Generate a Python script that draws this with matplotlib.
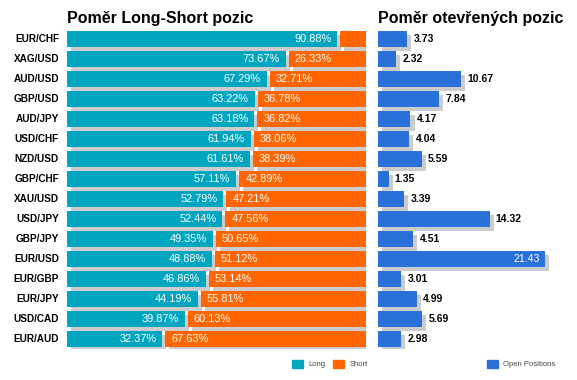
import matplotlib
matplotlib.use("Agg")
import matplotlib.pyplot as plt
import matplotlib.patheffects as pe
from matplotlib.patches import Patch

plt.rcParams['font.family'] = ['Liberation Sans', 'DejaVu Sans']

pairs = ["EUR/CHF", "XAG/USD", "AUD/USD", "GBP/USD", "AUD/JPY", "USD/CHF", "NZD/USD",
         "GBP/CHF", "XAU/USD", "USD/JPY", "GBP/JPY", "EUR/USD", "EUR/GBP", "EUR/JPY",
         "USD/CAD", "EUR/AUD"]
long_pct = [90.88, 73.67, 67.29, 63.22, 63.18, 61.94, 61.61, 57.11, 52.79, 52.44,
            49.35, 48.88, 46.86, 44.19, 39.87, 32.37]
short_pct = [9.12, 26.33, 32.71, 36.78, 36.82, 38.06, 38.39, 42.89, 47.21, 47.56,
             50.65, 51.12, 53.14, 55.81, 60.13, 67.63]
open_pos = [3.73, 2.32, 10.67, 7.84, 4.17, 4.04, 5.59, 1.35, 3.39, 14.32,
            4.51, 21.43, 3.01, 4.99, 5.69, 2.98]

C_LONG = "#00A6C0"
C_SHORT = "#FF6600"
C_OPEN = "#2970D8"
C_SHADOW = "#CCCCCC"

W, H = 577, 380
fig = plt.figure(figsize=(W / 100, H / 100), dpi=100)

def px_axes(x0, y0, x1, y1):
    return fig.add_axes([x0 / W, 1 - y1 / H, (x1 - x0) / W, (y1 - y0) / H])

shadow = [pe.SimplePatchShadow(offset=(2.9, -2.9), shadow_rgbFace=C_SHADOW, alpha=1.0), pe.Normal()]
gap = 0.5

# Left panel
axL = px_axes(67, 29, 366, 349)
ypos = list(range(len(pairs)))
long_w = [v - gap for v in long_pct]
short_left = [v + gap for v in long_pct]
short_w = [s - gap for s in short_pct]
axL.barh(ypos, long_w, height=0.8, color=C_LONG, path_effects=shadow)
axL.barh(ypos, short_w, left=short_left, height=0.8, color=C_SHORT, path_effects=shadow)
axL.set_xlim(0, 100)
axL.set_ylim(len(pairs) - 0.5, -0.5)
axL.axis("off")
for i, (lv, sv) in enumerate(zip(long_pct, short_pct)):
    axL.annotate(f"{lv:.2f}%", (lv - gap, i), xytext=(-4.3, 0), textcoords="offset points",
                 ha="right", va="center", color="white", fontsize=7.9)
    if sv > 15:
        axL.annotate(f"{sv:.2f}%", (lv + gap, i), xytext=(4.3, 0), textcoords="offset points",
                     ha="left", va="center", color="white", fontsize=7.9)
    axL.annotate(pairs[i], (0, i), xytext=(-5.8, 0), textcoords="offset points",
                 ha="right", va="center", color="black", fontsize=7.2, fontweight="bold")

# Right panel
px_per_unit = 7.79
axR = px_axes(378, 29, 577, 349)
axR.barh(ypos, open_pos, height=0.8, color=C_OPEN, path_effects=shadow)
axR.set_xlim(0, 199 / px_per_unit)
axR.set_ylim(len(pairs) - 0.5, -0.5)
axR.axis("off")
for i, v in enumerate(open_pos):
    if v * px_per_unit + 45 > 199:
        axR.annotate(f"{v:.2f}", (v, i), xytext=(-3.4, 0), textcoords="offset points",
                     ha="right", va="center", color="white", fontsize=7.6)
    else:
        axR.annotate(f"{v:.2f}", (v, i), xytext=(4.5, 0), textcoords="offset points",
                     ha="left", va="center", color="black", fontsize=7.5, fontweight="bold")

# Titles
fig.text(67 / W, 1 - 23 / H, "Poměr Long-Short pozic", fontsize=11.5, fontweight="bold",
         ha="left", va="baseline")
fig.text(378 / W, 1 - 23 / H, "Poměr otevřených pozic", fontsize=11.5, fontweight="bold",
         ha="left", va="baseline")

# Legends
leg_kw = dict(frameon=False, fontsize=5.5, handlelength=1.45, handleheight=1.3,
              handletextpad=0.65, columnspacing=1.05, borderpad=0, borderaxespad=0,
              labelcolor="#444444")
fig.legend([Patch(color=C_LONG), Patch(color=C_SHORT)], ["Long", "Short"], ncol=2,
           loc="center left", bbox_to_anchor=(292 / W, 1 - 364 / H), **leg_kw)
fig.legend([Patch(color=C_OPEN)], ["Open Positions"], ncol=1,
           loc="center left", bbox_to_anchor=(487 / W, 1 - 364 / H), **leg_kw)

fig.savefig("out.png", dpi=100, facecolor="white")
